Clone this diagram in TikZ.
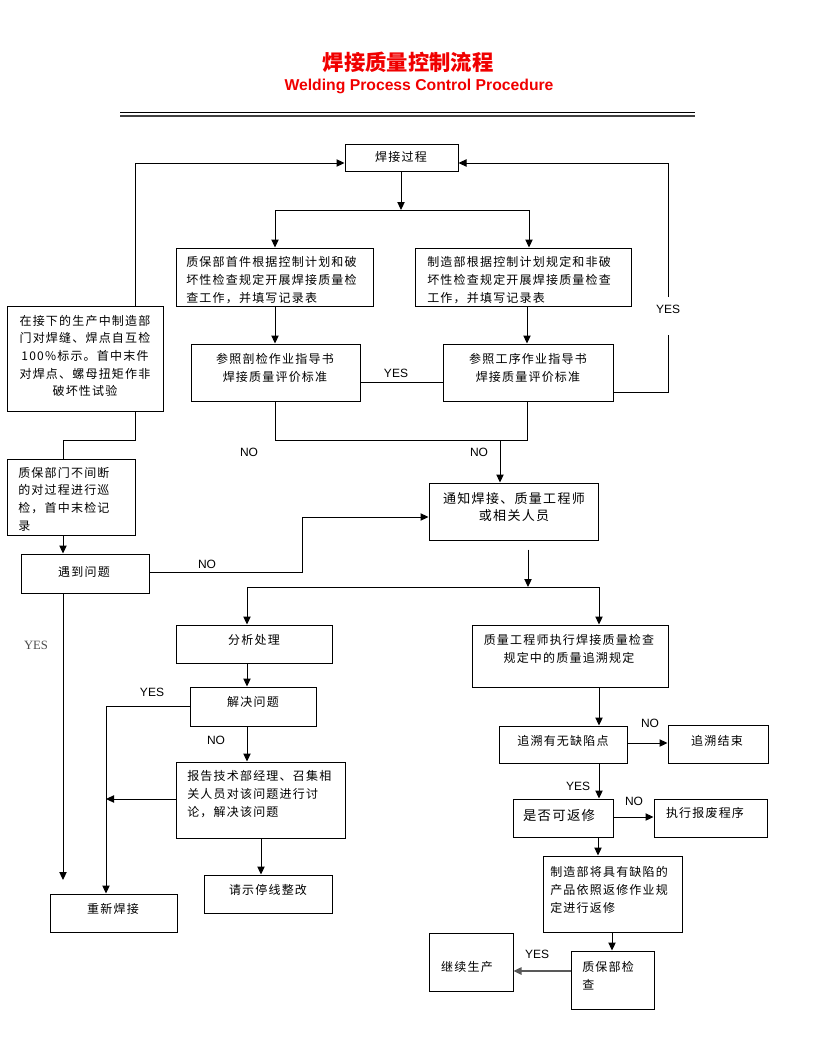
\documentclass[tikz,border=0pt]{standalone}
\usepackage{fontspec}
\setmainfont{Liberation Sans}
\newfontfamily\serifx{Liberation Serif}
\newfontfamily\cjkb{Noto Sans CJK SC}[LetterSpace=10]
\newfontfamily\cjkt{Noto Sans CJK SC}
\usetikzlibrary{arrows.meta}
\definecolor{titred}{RGB}{240,0,0}
\newcommand\mybox[5]{\node[box,minimum width={(#4-#2)*0.75pt},minimum height={(#5-#3)*0.75pt}] (#1) at ({(#2+#4)/2},{(#3+#5)/2}) {};}
\begin{document}
\begin{tikzpicture}[x=0.75pt,y=-0.75pt,
  box/.style={draw,line width=0.75pt,inner sep=0pt},
  tx/.style={inner sep=0pt,font=\cjkb\fontsize{9pt}{13.25pt}\selectfont},
  txl/.style={tx,align=left,anchor=west},
  txc/.style={tx,align=center},
  lab/.style={inner sep=0pt,font=\fontsize{9pt}{10pt}\selectfont},
  con/.style={line width=0.75pt},
  arr/.style={line width=0.75pt,-{Triangle[length=6pt,width=5.5pt]}}]
\useasboundingbox (0,0) rectangle (816,1056);

% title
\node[inner sep=0pt,text=titred,font=\cjkt\bfseries\fontsize{16pt}{18pt}\selectfont] (title) at (408,62) {焊接质量控制流程};
\node[inner sep=0pt,text=titred,font=\bfseries\fontsize{11.8pt}{13pt}\selectfont] (subtitle) at (419,86) {Welding Process Control Procedure};
\draw[line width=0.75pt] (120,112.7) -- (695,112.7);
\draw[line width=1.6pt,black!75] (120,115.9) -- (695,115.9);

% boxes
\mybox{weld}{345}{144}{458}{171}
\mybox{qa1}{176}{248}{373}{306}
\mybox{mf1}{415}{248}{631}{306}
\mybox{ref1}{191}{344}{360}{401}
\mybox{ref2}{443}{344}{613}{401}
\mybox{prod}{7}{306}{163}{411}
\mybox{patrol}{7}{459}{135}{535}
\mybox{prob}{21}{554}{149}{593}
\mybox{notify}{429}{483}{598}{540}
\mybox{anal}{176}{625}{332}{663}
\mybox{qeng}{472}{625}{668}{687}
\mybox{solve}{190}{687}{316}{726}
\mybox{report}{176}{762}{345}{838}
\mybox{stop}{204}{875}{332}{913}
\mybox{reweld}{50}{894}{177}{932}
\mybox{trace}{499}{726}{627}{763}
\mybox{tend}{668}{725}{768}{763}
\mybox{rep}{513}{799}{613}{837}
\mybox{scrap}{654}{799}{767}{837}
\mybox{fix}{543}{856}{682}{932}
\mybox{check}{571}{951}{654}{1009}
\mybox{cont}{429}{933}{513}{991}

% texts
\node[txc] (t-weld) at (401,157) {焊接过程};
\node[txl] (t-qa1) at (186,280) {质保部首件根据控制计划和破\\坏性检查规定开展焊接质量检\\查工作，并填写记录表};
\node[txl] (t-mf1) at (427,280) {制造部根据控制计划规定和非破\\坏性检查规定开展焊接质量检查\\工作，并填写记录表};
\node[txc] (t-ref1) at (275,368) {参照剖检作业指导书\\焊接质量评价标准};
\node[txc] (t-ref2) at (528,368) {参照工序作业指导书\\焊接质量评价标准};
\node[txc] (t-prod) at (85,356) {在接下的生产中制造部\\门对焊缝、焊点自互检\\100\%标示。首中末件\\对焊点、螺母扭矩作非\\破坏性试验};
\node[txl] (t-patrol) at (18,499) {质保部门不间断\\的对过程进行巡\\检，首中末检记\\录};
\node[txc] (t-prob) at (84,572) {遇到问题};
\node[txc,font=\cjkb\fontsize{9.75pt}{13.25pt}\selectfont] (t-notify) at (514,507) {通知焊接、质量工程师\\或相关人员};
\node[txc] (t-anal) at (254,640) {分析处理};
\node[txc] (t-solve) at (253,702) {解决问题};
\node[txl] (t-report) at (187,794) {报告技术部经理、召集相\\关人员对该问题进行讨\\论，解决该问题};
\node[txc] (t-stop) at (268,890) {请示停线整改};
\node[txc] (t-reweld) at (113,909) {重新焊接};
\node[txc] (t-qeng) at (569,649) {质量工程师执行焊接质量检查\\规定中的质量追溯规定};
\node[txc] (t-trace) at (563,741) {追溯有无缺陷点};
\node[txc] (t-tend) at (717,741) {追溯结束};
\node[txc,font=\cjkb\fontsize{10pt}{13pt}\selectfont] (t-rep) at (559,815) {是否可返修};
\node[txc] (t-scrap) at (705,813) {执行报废程序};
\node[txl] (t-fix) at (550,890) {制造部将具有缺陷的\\产品依照返修作业规\\定进行返修};
\node[txl] (t-check) at (582,976) {质保部检\\查};
\node[txc] (t-cont) at (467,967) {继续生产};

% connectors
\coordinate (c1) at (135,163);
\draw[arr] (prod.north -| c1) -- (c1) -- (c1 -| weld.west);
\coordinate (c2) at (668,392);
\coordinate (g1) at (668,335);
\coordinate (g2) at (668,297);
\coordinate (c3) at (668,163);
\draw[con] (ref2.east |- c2) -- (c2) -- (g1);
\draw[arr] (g2) -- (c3) -- (c3 -| weld.east);
\node[lab] (yes-r) at (668,309) {YES};

\coordinate (j1) at (401,210);
\coordinate (jl) at (275,210);
\coordinate (jr) at (529,210);
\draw[arr] (weld.south -| j1) -- (j1);
\draw[con] (jl) -- (jr);
\draw[arr] (jl) -- (jl |- qa1.north);
\draw[arr] (jr) -- (jr |- mf1.north);
\draw[arr] (qa1.south -| jl) -- (ref1.north -| jl);
\coordinate (v1) at (275,440);
\coordinate (v2) at (527,440);
\coordinate (v3) at (500,440);
\draw[arr] (v2 |- mf1.south) -- (v2 |- ref2.north);
\coordinate (yy) at (0,382);
\draw[con] (ref1.east |- yy) -- (ref2.west |- yy);
\node[lab] (yes-m) at (396,373) {YES};
\draw[con] (v1 |- ref1.south) -- (v1) -- (v2) -- (v2 |- ref2.south);
\draw[arr] (v3) -- (v3 |- notify.north);
\node[lab] (no-l) at (249,452) {NO};
\node[lab] (no-m) at (479,452) {NO};

\coordinate (l1) at (135,440);
\coordinate (l2) at (63,440);
\draw[con] (l1 |- prod.south) -- (l1) -- (l2) -- (l2 |- patrol.north);
\draw[arr] (l2 |- patrol.south) -- (l2 |- prob.north);
\coordinate (l3) at (63,880);
\draw[arr] (l3 |- prob.south) -- (l3);
\node[inner sep=0pt,text=black!70,font=\serifx\fontsize{9.5pt}{11pt}\selectfont] (yes-l) at (36,645) {YES};
\coordinate (n1) at (302,572);
\coordinate (n2) at (302,517);
\draw[arr] (prob.east |- n1) -- (n1) -- (n2) -- (n2 -| notify.west);
\node[lab] (no-p) at (207,564) {NO};

\coordinate (m1) at (528,587);
\coordinate (m2) at (247,587);
\coordinate (m3) at (599,587);
\draw[arr,shorten <=6.75pt] (m1 |- notify.south) -- (m1);
\draw[con] (m2) -- (m3);
\draw[arr] (m2) -- (m2 |- anal.north);
\draw[arr] (m3) -- (m3 |- qeng.north);
\draw[arr] (m2 |- anal.south) -- (m2 |- solve.north);
\coordinate (s1) at (106,706);
\draw[arr] (solve.west |- s1) -- (s1) -- (s1 |- reweld.north);
\node[lab] (yes-s) at (152,692) {YES};
\draw[arr] (m2 |- solve.south) -- (m2 |- report.north);
\node[lab] (no-s) at (216,740) {NO};
\coordinate (s2) at (106,799);
\draw[arr] (report.west |- s2) -- (s2);
\coordinate (s3) at (261,838);
\draw[arr] (s3 |- report.south) -- (s3 |- stop.north);

\draw[arr] (m3 |- qeng.south) -- (m3 |- trace.north);
\coordinate (r1) at (0,743);
\draw[arr] (trace.east |- r1) -- (tend.west |- r1);
\node[lab] (no-t) at (650,723) {NO};
\draw[arr] (m3 |- trace.south) -- (m3 |- rep.north);
\node[lab] (yes-t) at (578,786) {YES};
\coordinate (r2) at (0,817);
\draw[arr] (rep.east |- r2) -- (scrap.west |- r2);
\node[lab] (no-r) at (634,801) {NO};
\coordinate (r3) at (598,0);
\draw[arr] (r3 |- rep.south) -- (r3 |- fix.north);
\coordinate (r4) at (612,0);
\draw[arr] (r4 |- fix.south) -- (r4 |- check.north);
\coordinate (r5) at (0,971);
\draw[arr,line width=1.1pt,black!65] (check.west |- r5) -- (cont.east |- r5);
\node[lab] (yes-c) at (537,954) {YES};
\end{tikzpicture}
\end{document}
